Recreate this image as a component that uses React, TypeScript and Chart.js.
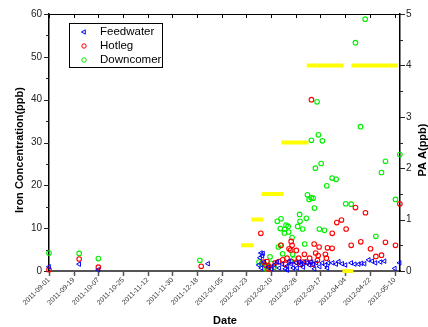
import React, { useEffect, useRef } from 'react';
import { Chart, registerables } from 'chart.js';

Chart.register(...registerables);

const FONT = "'Liberation Sans', Arial, sans-serif";
const BASE_DATE = '2011-09-01';
const X_MAX_DAY = 256;

const xTickLabels = [
  '2011-09-01', '2011-09-19', '2011-10-07', '2011-10-25', '2011-11-12',
  '2011-11-30', '2011-12-18', '2012-01-05', '2012-01-23', '2012-02-10',
  '2012-02-28', '2012-03-17', '2012-04-04', '2012-04-22', '2012-05-10',
];
const ironTicks = [0, 10, 20, 30, 40, 50, 60];
const paaTicks = [0, 1, 2, 3, 4, 5];

// Feedwater: days since 2011-09-01, iron ppb
const feedDays = [0, 22, 36, 116, 153, 153.9, 154.6, 154.9, 155.6, 156.1, 157, 160, 162.2, 164.4, 166.5, 168, 170.2, 172.4, 173.8, 173.9, 175.3, 176.8, 178.2, 180.4, 180.9, 182.6, 184.1, 185.5, 186.3, 188.5, 190, 191.4, 192.8, 193.6, 195, 197.4, 199.4, 201.6, 203, 203.8, 206.9, 209.4, 211.3, 213.8, 216.2, 220.4, 223, 225.9, 227.9, 230.1, 233.2, 235.7, 238.1, 241.8, 244.7, 252.2, 255.7];
const feedIron = [1.0, 1.6, 0.3, 1.7, 1.4, 3.1, 4.2, 0.7, 3.5, 4.1, 2.1, 0.9, 0.5, 1.4, 2.1, 0.7, 1.6, 0.5, 0.2, 1.2, 2.3, 1.6, 0.7, 1.9, 0.7, 2.1, 1.6, 0.9, 2.1, 1.9, 1.4, 2.1, 1.6, 0.5, 1.9, 1.0, 1.9, 1.4, 0.7, 1.9, 1.9, 1.6, 2.2, 1.7, 1.4, 1.9, 1.6, 1.6, 1.8, 1.7, 2.6, 2.3, 1.9, 2.1, 2.3, 0.6, 1.9];

// Hotleg
const hotDays = [0, 22, 36, 111, 154.5, 156.3, 157.8, 159, 159.8, 160.2, 162.2, 165, 167.5, 169.2, 170.4, 172.4, 173.6, 175.1, 176.3, 176.6, 176.8, 177.3, 180.4, 180.6, 182.1, 183.3, 185.5, 186.3, 187.7, 190.1, 191.4, 192.3, 193.4, 194.5, 195.8, 196.3, 197, 201.6, 202.3, 203.1, 206.5, 206.6, 209.9, 213.3, 216.7, 220.4, 223.5, 227.4, 230.8, 234.5, 238.4, 242.5, 245.4, 252.7, 255.9];
const hotIron = [0.3, 2.8, 0.9, 1.1, 8.8, 2.1, 1.4, 2.2, 0.5, 1.2, 0.6, 1.9, 2.2, 6.0, 2.6, 1.6, 3.0, 5.2, 4.9, 6.9, 2.2, 6.0, 4.8, 2.1, 3.0, 1.6, 2.1, 3.9, 2.1, 3.0, 40.0, 1.6, 6.3, 4.2, 2.5, 3.6, 5.6, 3.9, 3.0, 5.4, 5.3, 8.8, 11.3, 11.9, 9.8, 6.0, 14.8, 6.8, 13.6, 5.2, 3.4, 3.7, 6.7, 6.0, 15.7];

// Downcomer
const downDays = [0, 22, 36, 110, 153.2, 155.4, 157, 158.5, 158.7, 160.2, 161.2, 162, 164.1, 166.5, 167.3, 168.7, 169, 169.2, 170.4, 171.7, 171.9, 172.9, 174.4, 174.8, 177.3, 177.7, 178.7, 181.4, 182.8, 183.1, 185, 186.5, 187.7, 188.5, 189.7, 191.2, 191.4, 192.6, 193.6, 194.3, 195.5, 196.5, 197.2, 198.5, 199.4, 200.9, 202.6, 206.5, 209.4, 216.4, 220.4, 223.5, 227.2, 230.6, 238.4, 242.5, 245.4, 252.7, 255.9];
const downIron = [4.2, 4.1, 2.9, 2.5, 2.1, 1.8, 1.6, 0.5, 1.3, 0.9, 3.3, 1.8, 0.9, 11.6, 5.6, 9.9, 6.0, 12.2, 4.0, 8.9, 9.8, 10.7, 10.4, 9.1, 7.8, 3.9, 2.8, 10.4, 13.2, 11.6, 9.8, 6.3, 12.3, 17.8, 16.7, 17.1, 30.5, 17.0, 14.7, 24.0, 39.5, 31.8, 9.8, 25.1, 30.4, 9.5, 19.9, 21.7, 21.4, 15.7, 15.6, 53.3, 33.7, 58.8, 8.1, 23.0, 25.6, 16.7, 27.2];

// PAA level segments (right axis)
const paaStartDay = [140, 147.5, 155, 169.5, 188, 214, 220.6];
const paaEndDay = [149, 156.3, 171, 189.2, 214.8, 222, 254.5];
const paaValue = [0.5, 1.0, 1.5, 2.5, 4.0, 0.0, 4.0];

const DAY_MS = 86400000;
const baseMs = Date.parse(BASE_DATE + 'T00:00:00Z');
const dayOf = (s: string) => (Date.parse(s + 'T00:00:00Z') - baseMs) / DAY_MS;
const xTickDays = xTickLabels.map(dayOf);

const pts = (xs: number[], ys: number[]) => xs.map((x, i) => ({ x, y: ys[i] }));

function paaPoints() {
  const out: any[] = [];
  paaValue.forEach((v, i) => {
    out.push({ x: paaStartDay[i], y: v });
    out.push({ x: paaEndDay[i], y: v });
    out.push({ x: paaEndDay[i], y: null });
  });
  return out;
}

const framePlugin = {
  id: 'frame',
  beforeDatasetsDraw(chart: any) {
    const { ctx, chartArea: a, scales } = chart;
    const x = scales.x, y = scales.y, y1 = scales.y1;
    const line = (x1: number, yy1: number, x2: number, yy2: number) => {
      ctx.beginPath(); ctx.moveTo(x1, yy1); ctx.lineTo(x2, yy2); ctx.stroke();
    };
    ctx.save();
    ctx.strokeStyle = '#000';
    ctx.lineWidth = 1;
    line(a.left, a.top + 0.5, a.right, a.top + 0.5);
    xTickDays.forEach((d) => {
      const px = Math.round(x.getPixelForValue(d)) + 0.5;
      line(px, a.top, px, a.top + 4);
    });
    ctx.strokeStyle = '#555';
    ctx.lineWidth = 1.5;
    xTickDays.forEach((d) => {
      const px = Math.round(x.getPixelForValue(d)) + 0.5;
      line(px, a.bottom, px, a.bottom + 5);
    });
    ctx.strokeStyle = '#222';
    ctx.lineWidth = 1;
    for (let v = ironTicks[0]; v <= ironTicks[ironTicks.length - 1]; v += 5) {
      const py = Math.round(y.getPixelForValue(v)) + 0.5;
      const len = v % 10 === 0 ? 5 : 3;
      line(a.left - len, py, a.left, py);
    }
    for (let v = paaTicks[0]; v <= paaTicks[paaTicks.length - 1] + 1e-9; v += 0.5) {
      const py = Math.round(y1.getPixelForValue(v)) + 0.5;
      const len = Math.abs(v - Math.round(v)) < 1e-6 ? 5 : 3;
      line(a.right, py, a.right + len, py);
    }
    ctx.restore();
  },
  afterDraw(chart: any) {
    const { ctx, chartArea: a } = chart;
    ctx.save();
    // axis titles
    ctx.fillStyle = '#000';
    ctx.font = `bold 11px ${FONT}`;
    ctx.textAlign = 'center';
    ctx.textBaseline = 'middle';
    ctx.save();
    ctx.translate(20, 150);
    ctx.rotate(-Math.PI / 2);
    ctx.fillText('Iron Concentration(ppb)', 0, 0);
    ctx.restore();
    ctx.save();
    ctx.translate(423, 150);
    ctx.rotate(-Math.PI / 2);
    ctx.fillText('PA A(ppb)', 0, 0);
    ctx.restore();
    ctx.fillText('Date', 225, 321);

    // legend
    const lx = a.left + 20, ly = a.top + 9, lw = 93, lh = 44;
    ctx.fillStyle = '#fff';
    ctx.fillRect(lx, ly, lw, lh);
    ctx.strokeStyle = '#000';
    ctx.lineWidth = 1;
    ctx.strokeRect(lx + 0.5, ly + 0.5, lw, lh);
    const mx = lx + 15;
    const rows = [ly + 9, ly + 23, ly + 37];
    ctx.strokeStyle = '#0000ff';
    ctx.beginPath();
    ctx.moveTo(mx - 2.5, rows[0]);
    ctx.lineTo(mx + 1.3, rows[0] - 2.2);
    ctx.lineTo(mx + 1.3, rows[0] + 2.2);
    ctx.closePath();
    ctx.stroke();
    ctx.strokeStyle = '#ff0000';
    ctx.beginPath(); ctx.arc(mx, rows[1], 2.2, 0, Math.PI * 2); ctx.stroke();
    ctx.strokeStyle = '#00f000';
    ctx.beginPath(); ctx.arc(mx, rows[2], 2.2, 0, Math.PI * 2); ctx.stroke();
    ctx.fillStyle = '#000';
    ctx.font = `11.5px ${FONT}`;
    ctx.textAlign = 'left';
    ctx.fillText('Feedwater', lx + 31, rows[0]);
    ctx.fillText('Hotleg', lx + 31, rows[1]);
    ctx.fillText('Downcomer', lx + 31, rows[2]);
    ctx.restore();
  },
};

export default function App() {
  const ref = useRef<HTMLCanvasElement | null>(null);
  useEffect(() => {
    document.body.style.margin = '0';
    const canvas = ref.current;
    if (!canvas) return;
    Chart.defaults.font.family = FONT;
    const chart = new Chart(canvas, {
      type: 'scatter',
      data: {
        datasets: [
          {
            label: 'Feedwater',
            data: pts(feedDays, feedIron),
            yAxisID: 'y',
            pointStyle: 'triangle',
            rotation: -90,
            pointRadius: 2.6,
            borderWidth: 1,
            borderColor: '#0000ff',
            backgroundColor: 'rgba(0,0,0,0)',
            clip: false,
          },
          {
            label: 'Hotleg',
            data: pts(hotDays, hotIron),
            yAxisID: 'y',
            pointStyle: 'circle',
            pointRadius: 2.3,
            borderWidth: 1.1,
            borderColor: '#ff0000',
            backgroundColor: 'rgba(0,0,0,0)',
            clip: false,
          },
          {
            label: 'Downcomer',
            data: pts(downDays, downIron),
            yAxisID: 'y',
            pointStyle: 'circle',
            pointRadius: 2.3,
            borderWidth: 1.1,
            borderColor: '#00f000',
            backgroundColor: 'rgba(0,0,0,0)',
            clip: false,
          },
          {
            label: 'PAA',
            data: paaPoints(),
            yAxisID: 'y1',
            showLine: true,
            spanGaps: false,
            pointRadius: 0,
            borderWidth: 4,
            borderColor: '#ffff00',
            borderCapStyle: 'butt',
            clip: false,
            order: 5,
          } as any,
        ],
      },
      options: {
        responsive: false,
        animation: false,
        devicePixelRatio: 1,
        layout: { padding: { top: 14, left: 0, right: 0, bottom: 0 } },
        plugins: { legend: { display: false }, tooltip: { enabled: false } },
        scales: {
          x: {
            type: 'linear',
            position: 'bottom',
            min: 0,
            max: X_MAX_DAY,
            afterBuildTicks: (s: any) => { s.ticks = xTickDays.map((v) => ({ value: v })); },
            afterFit: (s: any) => { s.height = 56; },
            ticks: {
              autoSkip: false,
              minRotation: 45,
              maxRotation: 45,
              padding: 5,
              color: '#333',
              font: { size: 7, family: FONT },
              callback: (_v: any, i: number) => xTickLabels[i],
            },
            grid: { drawOnChartArea: false, drawTicks: false },
            border: { display: true, color: '#555', width: 2 },
          },
          y: {
            type: 'linear',
            position: 'left',
            min: 0,
            max: 60,
            afterBuildTicks: (s: any) => { s.ticks = ironTicks.map((v) => ({ value: v })); },
            afterFit: (s: any) => { s.width = 49; },
            ticks: { padding: 7, color: '#222', font: { size: 10, family: FONT } },
            grid: { drawOnChartArea: false, drawTicks: false },
            border: { display: true, color: '#000', width: 1.5 },
          },
          y1: {
            type: 'linear',
            position: 'right',
            min: 0,
            max: 5,
            afterBuildTicks: (s: any) => { s.ticks = paaTicks.map((v) => ({ value: v })); },
            afterFit: (s: any) => { s.width = 28; },
            ticks: { padding: 6, color: '#222', font: { size: 10, family: FONT } },
            grid: { drawOnChartArea: false, drawTicks: false },
            border: { display: true, color: '#000', width: 1.5 },
          },
        },
      } as any,
      plugins: [framePlugin],
    });
    return () => chart.destroy();
  }, []);
  return (
    <div style={{ position: 'absolute', left: 0, top: 0, width: 428, height: 327 }}>
      <canvas ref={ref} width={428} height={327} style={{ width: 428, height: 327, display: 'block' }} />
    </div>
  );
}
